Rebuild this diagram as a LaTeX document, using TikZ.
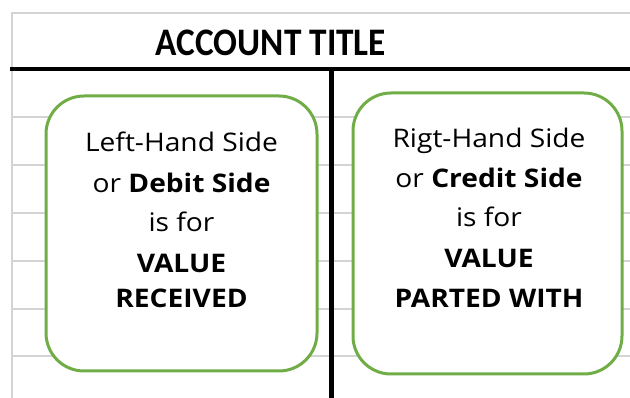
\documentclass[tikz,border=0pt]{standalone}
\usepackage{fontspec}
\setmainfont{Open Sans}[FakeStretch=1.10]
\newfontfamily\titlefont{Carlito}[FakeStretch=0.905]
\definecolor{cellgray}{HTML}{D4D4D4}
\definecolor{boxgreen}{HTML}{70AD47}
\begin{document}
\begin{tikzpicture}[x=1pt,y=-1pt,
  gridline/.style={draw=cellgray,line width=1.5pt},
  tline/.style={draw=black,line width=4.5pt},
  sidebox/.style={draw=boxgreen,fill=white,line width=3pt,rounded corners=38pt,inner sep=0pt},
  bodytext/.style={anchor=base,inner sep=0pt,font=\fontsize{25.6}{30}\selectfont},
  titletext/.style={anchor=base,inner sep=0pt,font=\titlefont\bfseries\fontsize{39}{44}\selectfont}]
\useasboundingbox (0,0) rectangle (630,398);
% spreadsheet cell borders
\draw[gridline] (12,398) -- (12,13) -- (630,13);
\foreach \yy in {117,165,213,261,309,356}
  \draw[gridline] (12,\yy) -- (630,\yy);
% T-account heading
\node[titletext] (title) at (271,55.5) {ACCOUNT TITLE};
\coordinate (barL) at (10,69);
\coordinate (barR) at (630,69);
\coordinate (stemTop) at (331.5,69);
\coordinate (stemBot) at (331.5,398);
\draw[tline] (barL) -- (barR);
\draw[tline] (stemTop) -- (stemBot);
% debit side
\node[sidebox,minimum width=271pt,minimum height=275pt] (debit) at (181.5,233.5) {};
\node[bodytext] (d1) at (181.5,152) {Left-Hand Side};
\node[bodytext] (d2) at (181.5,192.5) {or \textbf{Debit Side}};
\node[bodytext] (d3) at (181.5,232) {is for};
\node[bodytext] (d4) at (181.5,272.5) {\textbf{VALUE}};
\node[bodytext] (d5) at (181.5,308) {\textbf{RECEIVED}};
% credit side
\node[sidebox,minimum width=269pt,minimum height=281pt] (credit) at (487.5,233.5) {};
\node[bodytext] (c1) at (489,148) {Rigt-Hand Side};
\node[bodytext] (c2) at (489,188) {or \textbf{Credit Side}};
\node[bodytext] (c3) at (489,227) {is for};
\node[bodytext] (c4) at (489,268) {\textbf{VALUE}};
\node[bodytext] (c5) at (489,308) {\textbf{PARTED WITH}};
\end{tikzpicture}
\end{document}
